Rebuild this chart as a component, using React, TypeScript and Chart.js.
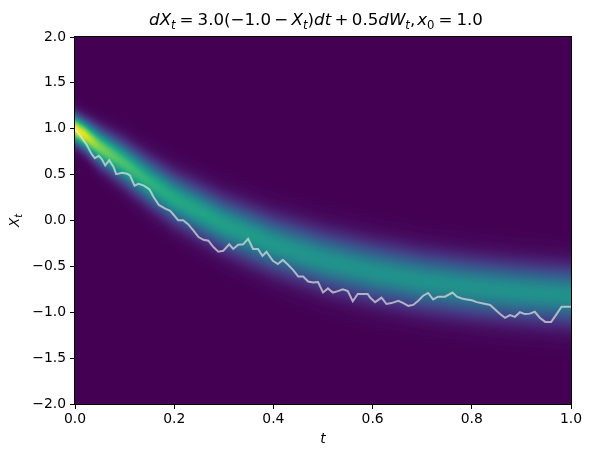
import React, { useEffect, useRef } from 'react';
import { Chart, registerables } from 'chart.js';

Chart.register(...registerables);

// Sample path (t, X_t)
const pathT = [0.000, 0.014, 0.024, 0.034, 0.040, 0.048, 0.054, 0.061, 0.069, 0.078, 0.083, 0.095, 0.105, 0.111, 0.120, 0.128, 0.139, 0.150, 0.159, 0.169, 0.182, 0.192, 0.208, 0.218, 0.228, 0.239, 0.249, 0.259, 0.269, 0.279, 0.289, 0.299, 0.311, 0.319, 0.329, 0.339, 0.349, 0.359, 0.369, 0.378, 0.386, 0.399, 0.409, 0.419, 0.429, 0.440, 0.450, 0.460, 0.470, 0.480, 0.490, 0.500, 0.510, 0.520, 0.530, 0.540, 0.550, 0.560, 0.570, 0.580, 0.590, 0.595, 0.605, 0.618, 0.628, 0.638, 0.652, 0.662, 0.672, 0.682, 0.692, 0.702, 0.712, 0.722, 0.732, 0.746, 0.761, 0.770, 0.780, 0.790, 0.800, 0.810, 0.823, 0.837, 0.847, 0.857, 0.867, 0.877, 0.887, 0.897, 0.907, 0.917, 0.927, 0.937, 0.948, 0.960, 0.971, 0.981, 0.991, 1.000];
const pathX = [1.00, 0.90, 0.82, 0.72, 0.68, 0.705, 0.67, 0.60, 0.657, 0.58, 0.505, 0.52, 0.51, 0.49, 0.38, 0.40, 0.38, 0.34, 0.25, 0.17, 0.13, 0.105, 0.003, 0.003, -0.04, -0.11, -0.18, -0.21, -0.22, -0.29, -0.34, -0.33, -0.26, -0.31, -0.265, -0.26, -0.20, -0.31, -0.31, -0.385, -0.34, -0.44, -0.475, -0.43, -0.48, -0.54, -0.61, -0.61, -0.665, -0.675, -0.67, -0.785, -0.74, -0.785, -0.77, -0.75, -0.77, -0.88, -0.80, -0.80, -0.80, -0.84, -0.89, -0.84, -0.91, -0.90, -0.875, -0.90, -0.93, -0.92, -0.875, -0.82, -0.79, -0.86, -0.83, -0.83, -0.785, -0.83, -0.85, -0.86, -0.87, -0.89, -0.905, -0.92, -0.97, -1.02, -1.06, -1.03, -1.05, -1.00, -1.02, -1.015, -0.995, -1.06, -1.105, -1.105, -1.02, -0.94, -0.94, -0.94];

// Density band (centre and spread)
const bandT = [0.0, 0.02, 0.05, 0.1, 0.15, 0.2, 0.3, 0.4, 0.5, 0.6, 0.7, 0.8, 0.9, 1.0];
const bandMean = [1.0, 0.93, 0.80, 0.62, 0.42, 0.24, -0.04, -0.26, -0.43, -0.56, -0.66, -0.73, -0.78, -0.82];
const bandStd = [0.10, 0.105, 0.125, 0.143, 0.157, 0.167, 0.18, 0.19, 0.197, 0.2, 0.2, 0.2, 0.2, 0.2];

const xTicks = [0, 0.2, 0.4, 0.6, 0.8, 1.0];
const xTickLabels = ['0.0', '0.2', '0.4', '0.6', '0.8', '1.0'];
const yTicks = [-2, -1.5, -1, -0.5, 0, 0.5, 1, 1.5, 2];
const yTickLabels = ['\u22122.0', '\u22121.5', '\u22121.0', '\u22120.5', '0.0', '0.5', '1.0', '1.5', '2.0'];

const viridisStops = ['#440154', '#482475', '#414487', '#355f8d', '#2a788e', '#21918c', '#22a884', '#44bf70', '#7ad151', '#bddf26', '#fde725'];

const FONT = '"DejaVu Sans", "Liberation Sans", sans-serif';

function hexToRgb(h: string) {
  return [parseInt(h.slice(1, 3), 16), parseInt(h.slice(3, 5), 16), parseInt(h.slice(5, 7), 16)];
}

function buildLut() {
  const stops = viridisStops.map(hexToRgb);
  const lut: number[][] = [];
  for (let i = 0; i < 256; i++) {
    const f = (i / 255) * (stops.length - 1);
    const k = Math.min(Math.floor(f), stops.length - 2);
    const r = f - k;
    lut.push([0, 1, 2].map((c) => Math.round(stops[k][c] * (1 - r) + stops[k + 1][c] * r)));
  }
  return lut;
}

function interp(xs: number[], ys: number[], x: number) {
  if (x <= xs[0]) return ys[0];
  for (let i = 1; i < xs.length; i++) {
    if (x <= xs[i]) {
      const r = (x - xs[i - 1]) / (xs[i] - xs[i - 1]);
      return ys[i - 1] * (1 - r) + ys[i] * r;
    }
  }
  return ys[ys.length - 1];
}

const heatmapPlugin = {
  id: 'heatmap',
  beforeDatasetsDraw(chart: any) {
    const { ctx, chartArea, scales } = chart;
    const xs = scales.x;
    const ys = scales.y;
    const left = Math.round(chartArea.left);
    const top = Math.round(chartArea.top);
    const w = Math.round(chartArea.right) - left;
    const h = Math.round(chartArea.bottom) - top;
    const lut = buildLut();
    const img = ctx.createImageData(w, h);
    const s0 = bandStd[0];
    for (let px = 0; px < w; px++) {
      const t = xs.getValueForPixel(left + px + 0.5);
      const m = interp(bandT, bandMean, t);
      const s = interp(bandT, bandStd, t);
      for (let py = 0; py < h; py++) {
        const v = ys.getValueForPixel(top + py + 0.5);
        const z = (v - m) / s;
        let val = (s0 / s) * Math.exp(-0.5 * z * z);
        val = Math.max(0, Math.min(1, val));
        const c = lut[Math.round(val * 255)];
        const idx = (py * w + px) * 4;
        img.data[idx] = c[0];
        img.data[idx + 1] = c[1];
        img.data[idx + 2] = c[2];
        img.data[idx + 3] = 255;
      }
    }
    ctx.putImageData(img, left, top);
  },
};

type Seg = { text: string; italic?: boolean; sub?: boolean; gap?: number };

function drawMath(ctx: CanvasRenderingContext2D, segs: Seg[], size: number, x: number, y: number, align: 'center' | 'left') {
  const fontFor = (s: Seg) => `${s.italic ? 'italic ' : ''}${s.sub ? size * 0.7 : size}px ${FONT}`;
  let total = 0;
  const widths = segs.map((s) => {
    if (s.gap !== undefined) {
      total += s.gap * size;
      return s.gap * size;
    }
    ctx.font = fontFor(s);
    const w = ctx.measureText(s.text).width;
    total += w;
    return w;
  });
  let cx = align === 'center' ? x - total / 2 : x;
  ctx.textBaseline = 'alphabetic';
  ctx.textAlign = 'left';
  segs.forEach((s, i) => {
    if (s.gap === undefined) {
      ctx.font = fontFor(s);
      ctx.fillText(s.text, cx, s.sub ? y + size * 0.22 : y);
    }
    cx += widths[i];
  });
}

const REL = 0.24;
const BIN = 0.2;

const textPlugin = {
  id: 'texts',
  afterDraw(chart: any) {
    const { ctx, chartArea } = chart;
    ctx.save();
    ctx.strokeStyle = '#000';
    ctx.lineWidth = 1;
    ctx.strokeRect(Math.round(chartArea.left) - 0.5, Math.round(chartArea.top) - 0.5, Math.round(chartArea.right) - Math.round(chartArea.left) + 1, Math.round(chartArea.bottom) - Math.round(chartArea.top) + 1);
    ctx.fillStyle = '#000';
    const title: Seg[] = [
      { text: 'dX', italic: true },
      { text: 't', italic: true, sub: true },
      { text: '', gap: REL },
      { text: '=' },
      { text: '', gap: REL },
      { text: '3.0(\u22121.0' },
      { text: '', gap: BIN },
      { text: '\u2212' },
      { text: '', gap: BIN },
      { text: 'X', italic: true },
      { text: 't', italic: true, sub: true },
      { text: ')' },
      { text: 'dt', italic: true },
      { text: '', gap: BIN },
      { text: '+' },
      { text: '', gap: BIN },
      { text: '0.5' },
      { text: 'dW', italic: true },
      { text: 't', italic: true, sub: true },
      { text: ',' },
      { text: '', gap: 0.12 },
      { text: 'x', italic: true },
      { text: '0', sub: true },
      { text: '', gap: REL },
      { text: '=' },
      { text: '', gap: REL },
      { text: '1.0' },
    ];
    drawMath(ctx, title, 16.67, 316, 25, 'center');
    // x label
    drawMath(ctx, [{ text: 't', italic: true }], 13.9, (chartArea.left + chartArea.right) / 2, 443, 'center');
    // y label
    ctx.save();
    ctx.translate(19, (chartArea.top + chartArea.bottom) / 2);
    ctx.rotate(-Math.PI / 2);
    drawMath(ctx, [{ text: 'X', italic: true }, { text: 't', italic: true, sub: true }], 13.9, 0, 0, 'center');
    ctx.restore();
    ctx.restore();
  },
};

export default function App() {
  const ref = useRef<HTMLCanvasElement | null>(null);
  useEffect(() => {
    document.body.style.margin = '0';
    const canvas = ref.current;
    if (!canvas) return;
    const tickFont = { family: FONT, size: 13.9 };
    const chart = new Chart(canvas, {
      type: 'line',
      data: {
        datasets: [
          {
            data: pathT.map((t, i) => ({ x: t, y: pathX[i] })),
            borderColor: 'rgba(232,232,232,0.68)',
            borderWidth: 2,
            pointRadius: 0,
            tension: 0,
            fill: false,
          },
        ],
      },
      options: {
        responsive: false,
        animation: false,
        devicePixelRatio: 1,
        layout: { padding: { top: 37, right: 21, left: 0, bottom: 0 } },
        plugins: { legend: { display: false }, tooltip: { enabled: false }, title: { display: false } },
        scales: {
          x: {
            type: 'linear',
            min: 0,
            max: 1,
            afterBuildTicks: (scale: any) => {
              scale.ticks = xTicks.map((v) => ({ value: v }));
            },
            afterFit: (scale: any) => {
              scale.height = 53;
            },
            ticks: {
              font: tickFont,
              color: '#000',
              padding: 2,
              maxRotation: 0,
              autoSkip: false,
              callback: (v: any) => {
                const i = xTicks.findIndex((t) => Math.abs(t - v) < 1e-9);
                return i >= 0 ? xTickLabels[i] : '';
              },
            },
            grid: { drawOnChartArea: false, drawTicks: true, tickLength: 5, color: '#000', lineWidth: 1 },
            border: { display: true, color: '#000', width: 1 },
          },
          y: {
            type: 'linear',
            min: -2,
            max: 2,
            afterBuildTicks: (scale: any) => {
              scale.ticks = yTicks.map((v) => ({ value: v }));
            },
            afterFit: (scale: any) => {
              scale.width = 75;
            },
            ticks: {
              font: tickFont,
              color: '#000',
              padding: 4,
              autoSkip: false,
              callback: (v: any) => {
                const i = yTicks.findIndex((t) => Math.abs(t - v) < 1e-9);
                return i >= 0 ? yTickLabels[i] : '';
              },
            },
            grid: { drawOnChartArea: false, drawTicks: true, tickLength: 5, color: '#000', lineWidth: 1 },
            border: { display: true, color: '#000', width: 1 },
          },
        },
      },
      plugins: [heatmapPlugin, textPlugin],
    } as any);
    return () => chart.destroy();
  }, []);
  return (
    <div style={{ position: 'absolute', left: 0, top: 0, width: 592, height: 457, background: '#fff' }}>
      <canvas ref={ref} width={592} height={457} style={{ display: 'block' }} />
    </div>
  );
}
